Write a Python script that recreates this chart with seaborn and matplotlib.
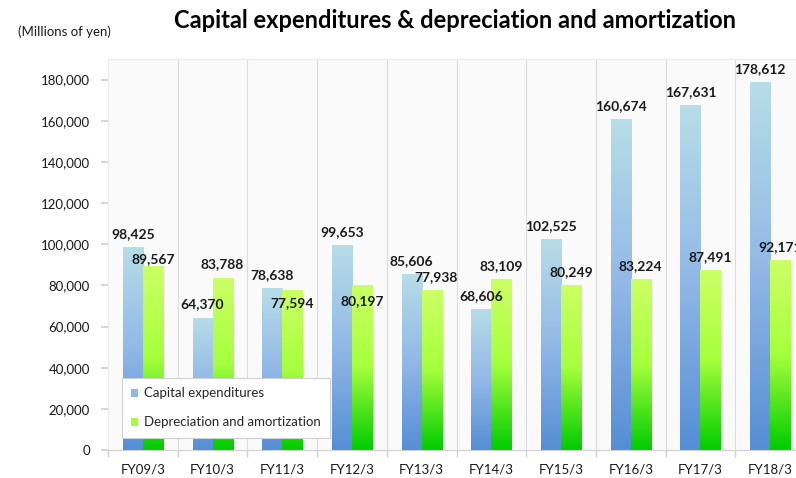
import matplotlib
matplotlib.use("Agg")
import matplotlib.pyplot as plt
import matplotlib.colors as mcolors
from matplotlib.patches import Patch
import numpy as np
import pandas as pd
import seaborn as sns

# data
years = ['FY09/3', 'FY10/3', 'FY11/3', 'FY12/3', 'FY13/3',
         'FY14/3', 'FY15/3', 'FY16/3', 'FY17/3', 'FY18/3']
capex = [98425, 64370, 78638, 99653, 85606, 68606, 102525, 160674, 167631, 178612]
depre = [89567, 83788, 77594, 80197, 77938, 83109, 80249, 83224, 87491, 92171]
series = ['Capital expenditures', 'Depreciation and amortization']

df = pd.DataFrame({
    'year': years * 2,
    'serie': [series[0]] * len(years) + [series[1]] * len(years),
    'value': capex + depre,
})

sns.set_theme(style='white')
plt.rcParams['font.family'] = ['Lato', 'DejaVu Sans']

# gradients top -> bottom
blue_grad = mcolors.LinearSegmentedColormap.from_list(
    'b', ['#b7dde8', '#92b8e6', '#558ed5'])
green_grad = mcolors.LinearSegmentedColormap.from_list(
    'g', ['#ccff66', '#a6ff3c', '#00cc00'])

fig = plt.figure(figsize=(7.96, 4.78), dpi=100)
ax = fig.add_axes([108 / 796, 28 / 478, 697 / 796, 391 / 478])
ax.set_facecolor('#fafafa')

sns.barplot(data=df, x='year', y='value', hue='serie', order=years,
            hue_order=series, palette=['#92b8e6', '#a6ff3c'],
            width=0.574, ax=ax, legend=False, saturation=1)

grad = np.linspace(0, 1, 256).reshape(-1, 1)
for i, p in enumerate(ax.patches):
    cmap = blue_grad if i < len(years) else green_grad
    x0, y0 = p.get_x(), p.get_y()
    w, h = p.get_width(), p.get_height()
    im = ax.imshow(grad, cmap=cmap, aspect='auto',
                   extent=[x0, x0 + w, y0, y0 + h], origin='upper', zorder=2)
    im.set_clip_path(p)
    p.set_facecolor('none')
    p.set_edgecolor('none')
ax.set_xlim(-0.5, len(years) - 0.5)
ax.set_ylim(0, 190000)

# labels: offset in pixels from the standard spot above each bar
cap_dy = [0] * 10
dep_dy = [-6, 0, -26, -29, 0, 0, 0, 0, 0, 0]
dep_dx = [0, 0, 0, 0, 4, 0, 0, 0, 0, 0]
bw = 0.574 / 2
for i in range(len(years)):
    ax.annotate(f'{capex[i]:,}', (i - bw / 2, capex[i]), xytext=(0, 13 + cap_dy[i]),
                textcoords='offset pixels', ha='center', va='center',
                fontsize=10, fontweight='bold', color='#1a1a1a', zorder=5)
    ax.annotate(f'{depre[i]:,}', (i + bw / 2, depre[i]), xytext=(dep_dx[i], 13 + dep_dy[i]),
                textcoords='offset pixels', ha='center', va='center',
                fontsize=10, fontweight='bold', color='#1a1a1a', zorder=5,
                annotation_clip=False)

# grid and axes
ax.set_xticks(np.arange(len(years) + 1) - 0.5, minor=True)
ax.grid(False)
for xb in np.arange(len(years)) + 0.5:
    ax.axvline(xb, color='#dcdcdc', lw=0.8, zorder=1)
ax.set_yticks(np.arange(0, 180001, 20000))
ax.set_yticklabels([f'{v:,}' for v in range(0, 180001, 20000)])
ax.tick_params(axis='y', which='major', left=True, length=5, color='#d0d0d0',
               pad=8, labelsize=9.5, labelcolor='#1a1a1a')
ax.tick_params(axis='x', which='major', bottom=False, pad=4,
               labelsize=9.5, labelcolor='#1a1a1a')
ax.tick_params(axis='x', which='minor', bottom=True, length=5, color='#d0d0d0')
ax.set_xlabel('')
ax.set_ylabel('')
for s in ['top', 'right', 'left']:
    ax.spines[s].set_color('#ececec')
    ax.spines[s].set_linewidth(0.8)
ax.spines['bottom'].set_color('#d0d0d0')
ax.spines['bottom'].set_linewidth(0.8)

# legend
handles = [Patch(facecolor='#92b8e6', edgecolor='none'),
           Patch(facecolor='#a6ff3c', edgecolor='none')]
leg = ax.legend(handles, series, loc='upper left',
                bbox_to_anchor=(14 / 697, (450 - 378) / 391),
                frameon=True, fancybox=False, framealpha=1, fontsize=9.5,
                handlelength=0.55, handleheight=0.55, handletextpad=0.4,
                labelspacing=1.3, borderpad=0.7, borderaxespad=0)
leg.get_frame().set_edgecolor('#d0d0d0')
leg.get_frame().set_linewidth(0.8)
leg.set_zorder(10)

fig.text(455 / 796, 1 - 20 / 478, 'Capital expenditures & depreciation and amortization',
         ha='center', va='center', fontsize=17, fontweight='bold', color='black')
fig.text(18 / 796, 1 - 32 / 478, '(Millions of yen)', ha='left', va='center',
         fontsize=9.5, color='#1a1a1a')

fig.savefig('out.png', dpi=100)
